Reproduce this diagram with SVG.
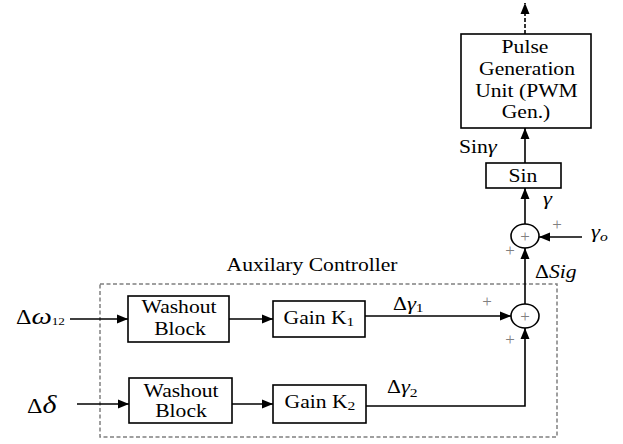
<svg xmlns="http://www.w3.org/2000/svg" width="623" height="444" viewBox="0 0 623 444">
<defs>
<marker id="ah" markerUnits="userSpaceOnUse" markerWidth="12" markerHeight="10" refX="11" refY="5" orient="auto">
<path d="M0,0.5 L11,5 L0,9.5 Z" fill="#000"/>
</marker>
</defs>
<rect width="623" height="444" fill="#fff"/>

<g id="aux-frame">
<rect x="100" y="284" width="457" height="153" fill="none" stroke="#808080" stroke-width="1.5" stroke-dasharray="4 2.5"/>
<text font-family="Liberation Serif" font-size="18" text-anchor="middle" transform="translate(312 271) scale(1.2 1)">Auxilary Controller</text>
</g>

<g id="in-omega">
<text font-family="Liberation Serif" font-size="18" transform="translate(16 324) scale(1.2 1)"><tspan font-size="20">Δ</tspan><tspan font-style="italic" font-size="24">ω</tspan><tspan font-size="11" dy="1">12</tspan></text>
</g>
<g id="in-delta">
<text font-family="Liberation Serif" font-size="18" transform="translate(27 413) scale(1.2 1)"><tspan font-size="20">Δ</tspan><tspan font-style="italic" font-size="25">δ</tspan></text>
</g>

<g id="washout1">
<rect x="128" y="296" width="101" height="46" fill="#fff" stroke="#000" stroke-width="1.6"/>
<text font-family="Liberation Serif" font-size="18" text-anchor="middle" transform="translate(179 313) scale(1.2 1)">Washout</text>
<text font-family="Liberation Serif" font-size="18" text-anchor="middle" transform="translate(180 335) scale(1.2 1)">Block</text>
</g>
<g id="washout2">
<rect x="129" y="378" width="103" height="45" fill="#fff" stroke="#000" stroke-width="1.6"/>
<text font-family="Liberation Serif" font-size="18" text-anchor="middle" transform="translate(181 397) scale(1.2 1)">Washout</text>
<text font-family="Liberation Serif" font-size="18" text-anchor="middle" transform="translate(181 417) scale(1.2 1)">Block</text>
</g>

<g id="gain1">
<rect x="273" y="301" width="92" height="36" fill="#fff" stroke="#000" stroke-width="1.6"/>
<text font-family="Liberation Serif" font-size="18" text-anchor="middle" transform="translate(319 324) scale(1.2 1)">Gain K<tspan font-size="13" dy="2">1</tspan></text>
</g>
<g id="gain2">
<rect x="273" y="385" width="93" height="38" fill="#fff" stroke="#000" stroke-width="1.6"/>
<text font-family="Liberation Serif" font-size="18" text-anchor="middle" transform="translate(320 408) scale(1.2 1)">Gain K<tspan font-size="13" dy="2">2</tspan></text>
</g>

<g id="sum2">
<ellipse cx="525" cy="316" rx="14" ry="12" fill="none" stroke="#000" stroke-width="1.6"/>
<text font-family="Liberation Serif" font-size="17" fill="#808080" text-anchor="middle" x="525" y="322">+</text>
<text font-family="Liberation Serif" font-size="17" fill="#808080" text-anchor="middle" x="487" y="307">+</text>
<text font-family="Liberation Serif" font-size="17" fill="#808080" text-anchor="middle" x="510" y="345">+</text>
</g>

<g id="sum1">
<ellipse cx="525" cy="236" rx="14" ry="12" fill="none" stroke="#000" stroke-width="1.6"/>
<text font-family="Liberation Serif" font-size="17" fill="#808080" text-anchor="middle" x="525" y="242">+</text>
<text font-family="Liberation Serif" font-size="17" fill="#808080" text-anchor="middle" x="510" y="256">+</text>
<text font-family="Liberation Serif" font-size="17" fill="#808080" text-anchor="middle" x="557" y="230">+</text>
</g>

<g id="gamma-o">
<text font-family="Liberation Serif" font-size="18" font-style="italic" transform="translate(591 238) scale(1.2 1)"><tspan font-size="19">γ</tspan><tspan font-size="13" dy="3">o</tspan></text>
</g>

<g id="sin">
<rect x="486" y="163" width="75" height="25" fill="#fff" stroke="#000" stroke-width="1.6"/>
<text font-family="Liberation Serif" font-size="18" text-anchor="middle" transform="translate(523 182) scale(1.2 1)">Sin</text>
</g>

<g id="pulse">
<rect x="461" y="34" width="130" height="94" fill="#fff" stroke="#000" stroke-width="1.6"/>
<text font-family="Liberation Serif" font-size="18" text-anchor="middle" transform="translate(525 53) scale(1.2 1)">Pulse</text>
<text font-family="Liberation Serif" font-size="18" text-anchor="middle" transform="translate(527 75) scale(1.2 1)">Generation</text>
<text font-family="Liberation Serif" font-size="18" text-anchor="middle" transform="translate(526.5 97) scale(1.2 1)">Unit (PWM</text>
<text font-family="Liberation Serif" font-size="18" text-anchor="middle" transform="translate(526 118) scale(1.2 1)">Gen.)</text>
</g>

<g id="connectors" fill="none" stroke="#000" stroke-width="1.6">
<line x1="70" y1="319" x2="128" y2="319" marker-end="url(#ah)"/>
<line x1="77" y1="404" x2="129" y2="404" marker-end="url(#ah)"/>
<line x1="229" y1="319" x2="273" y2="319" marker-end="url(#ah)"/>
<line x1="232" y1="404" x2="273" y2="404" marker-end="url(#ah)"/>
<line x1="365" y1="316" x2="511" y2="316" marker-end="url(#ah)"/>
<polyline points="366,406 525,406 525,328" marker-end="url(#ah)"/>
<line x1="525" y1="304" x2="525" y2="248" marker-end="url(#ah)"/>
<line x1="582" y1="237" x2="539" y2="237" marker-end="url(#ah)"/>
<line x1="525" y1="224" x2="525" y2="188" marker-end="url(#ah)"/>
<line x1="525" y1="163" x2="525" y2="128" marker-end="url(#ah)"/>
<line x1="525" y1="34" x2="525" y2="3" stroke-dasharray="4 2" marker-end="url(#ah)"/>
</g>
<g id="connector-labels" fill="#000">
<text font-family="Liberation Serif" font-size="18" transform="translate(393 310) scale(1.2 1)">Δ<tspan font-style="italic" font-size="19">γ</tspan><tspan font-size="13" dy="2">1</tspan></text>
<text font-family="Liberation Serif" font-size="18" transform="translate(387 393) scale(1.2 1)">Δ<tspan font-style="italic" font-size="19">γ</tspan><tspan font-size="13" dy="4">2</tspan></text>
<text font-family="Liberation Serif" font-size="18" transform="translate(535 278) scale(1.2 1)">Δ<tspan font-style="italic">Sig</tspan></text>
<text font-family="Liberation Serif" font-size="19" font-style="italic" transform="translate(543 205) scale(1.2 1)">γ</text>
<text font-family="Liberation Serif" font-size="18" transform="translate(459 153) scale(1.2 1)">Sin<tspan font-style="italic" font-size="19">γ</tspan></text>
</g>
</svg>
